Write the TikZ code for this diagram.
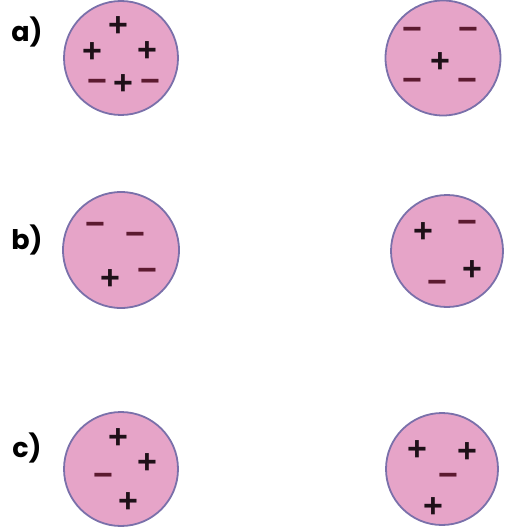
\documentclass[tikz,border=0pt]{standalone}
\usepackage{fontspec}
\setmainfont{Liberation Sans}
\newfontfamily\labfont{Poppins}
\definecolor{cellfill}{RGB}{230,164,200}
\definecolor{cellline}{RGB}{122,112,170}
\definecolor{pluscol}{RGB}{30,16,24}
\definecolor{minuscol}{RGB}{92,26,48}
\tikzset{
  cell/.style={circle,draw=cellline,fill=cellfill,line width=1.8pt,minimum size=#1,inner sep=0pt},
  chg/.style={font=\bfseries\fontsize{34}{34}\selectfont,inner sep=0pt,anchor=base,yshift=-10pt},
  pluschg/.style={chg,text=pluscol},
  minuschg/.style={chg,text=minuscol},
  lab/.style={font=\labfont\bfseries\fontsize{27}{27}\selectfont,inner sep=0pt}
}
\begin{document}
\begin{tikzpicture}[x=1pt,y=-1pt]
\useasboundingbox (0,0) rectangle (504,532);
% labels
\node[lab] (la) at (27,32) {a)};
\node[lab] (lb) at (27,240) {b)};
\node[lab] (lc) at (27,448) {c)};
% cells
\node[cell=114pt] (c1) at (121,58) {};
\node[cell=115pt] (c2) at (443,58) {};
\node[cell=116pt] (c3) at (121,250) {};
\node[cell=112pt] (c4) at (447,251) {};
\node[cell=114pt] (c5) at (121,469) {};
\node[cell=112pt] (c6) at (442,469) {};
% a left
\node[pluschg] (a1) at (118,27) {+};
\node[pluschg] (a2) at (92,53) {+};
\node[pluschg] (a3) at (147,52) {+};
\node[minuschg] (a4) at (97,83) {−};
\node[pluschg] (a5) at (123,85) {+};
\node[minuschg] (a6) at (150,83) {−};
% a right
\node[minuschg] (b1) at (412,31) {−};
\node[minuschg] (b2) at (468,31) {−};
\node[pluschg] (b3) at (440,63) {+};
\node[minuschg] (b4) at (412,82) {−};
\node[minuschg] (b5) at (467,82) {−};
% b left
\node[minuschg] (d1) at (95,225) {−};
\node[minuschg] (d2) at (135,235) {−};
\node[pluschg] (d3) at (110,279) {+};
\node[minuschg] (d4) at (147,271) {−};
% b right
\node[pluschg] (e1) at (423,232) {+};
\node[minuschg] (e2) at (467,223) {−};
\node[pluschg] (e3) at (472,270) {+};
\node[minuschg] (e4) at (437,283) {−};
% c left
\node[pluschg] (f1) at (118,438) {+};
\node[pluschg] (f2) at (147,463) {+};
\node[minuschg] (f3) at (103,476) {−};
\node[pluschg] (f4) at (128,502) {+};
% c right
\node[pluschg] (g1) at (417,450) {+};
\node[pluschg] (g2) at (467,452) {+};
\node[minuschg] (g3) at (448,476) {−};
\node[pluschg] (g4) at (433,507) {+};
\end{tikzpicture}
\end{document}
